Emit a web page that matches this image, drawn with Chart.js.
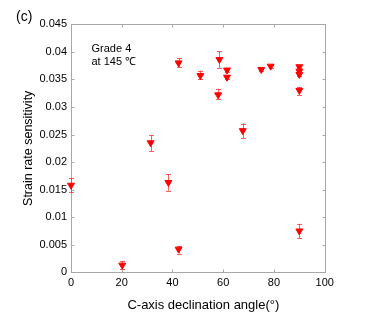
<!DOCTYPE html>
<html>
<head>
<meta charset="utf-8">
<script src="https://cdn.jsdelivr.net/npm/chart.js@4.4.0/dist/chart.umd.min.js"></script>
<style>
html,body{margin:0;padding:0;background:#fff;}
#wrap{width:366px;height:318px;position:relative;}
</style>
</head>
<body>
<div id="wrap"><canvas id="c" width="366" height="318"></canvas></div>
<script>
// C-axis declination angle (deg)
const angles = [0, 20.2, 31.4, 38.4, 42.4, 42.4, 51, 58, 58.5, 61.5, 61.5, 67.7, 75, 78.7, 90, 90, 90, 90, 90];
// Strain rate sensitivity
const values = [0.0158, 0.0013, 0.0235, 0.0163, 0.0042, 0.0380, 0.0357, 0.0322, 0.0386, 0.0367, 0.0354, 0.0257, 0.0368, 0.0374, 0.0373, 0.0365, 0.0359, 0.0330, 0.0075];
const errLow = [0.0145, 0.0006, 0.0220, 0.0148, 0.0034, 0.0372, 0.0350, 0.0315, 0.0371, 0.0363, 0.0350, 0.0244, 0.0365, 0.0371, 0.0370, 0.0362, 0.0356, 0.0322, 0.0062];
const errHigh = [0.0171, 0.0021, 0.0249, 0.0178, 0.0048, 0.0388, 0.0366, 0.0333, 0.0401, 0.0371, 0.0358, 0.0270, 0.0371, 0.0377, 0.0376, 0.0368, 0.0362, 0.0336, 0.0088];
const xTicks = [0, 20, 40, 60, 80, 100];
const yTicks = [0, 0.005, 0.01, 0.015, 0.02, 0.025, 0.03, 0.035, 0.04, 0.045];
const yTickLabels = ['0', '0.005', '0.01', '0.015', '0.02', '0.025', '0.03', '0.035', '0.04', '0.045'];
const xTitle = 'C-axis declination angle(\u00b0)';
const yTitle = 'Strain rate sensitivity';
const panelLabel = '(c)';
const noteLines = ['Grade 4', 'at 145 \u2103'];

const FONT = 'Arial, "Liberation Sans", sans-serif';

const errorBars = {
  id: 'errorBars',
  beforeDatasetsDraw(chart) {
    const {ctx, scales: {x, y}} = chart;
    ctx.save();
    ctx.strokeStyle = 'rgba(255,40,40,0.75)';
    ctx.lineWidth = 1;
    angles.forEach((a, i) => {
      const px = Math.round(x.getPixelForValue(a)) + 0.5;
      const y1 = y.getPixelForValue(errLow[i]);
      const y2 = y.getPixelForValue(errHigh[i]);
      ctx.beginPath();
      ctx.moveTo(px, y1); ctx.lineTo(px, y2);
      ctx.moveTo(px - 2.5, Math.round(y1) + 0.5); ctx.lineTo(px + 2.5, Math.round(y1) + 0.5);
      ctx.moveTo(px - 2.5, Math.round(y2) + 0.5); ctx.lineTo(px + 2.5, Math.round(y2) + 0.5);
      ctx.stroke();
    });
    ctx.restore();
  }
};

const frame = {
  id: 'frame',
  beforeDatasetsDraw(chart) {
    const {ctx, chartArea: ca, scales: {x, y}} = chart;
    ctx.save();
    ctx.strokeStyle = '#a8a8a8';
    ctx.lineWidth = 1;
    const L = Math.round(ca.left) + 0.5, R = Math.round(ca.right) + 0.5;
    const T = Math.round(ca.top) + 0.5, B = Math.round(ca.bottom) + 0.5;
    ctx.strokeRect(L, T, R - L, B - T);
    const tl = 3;
    ctx.beginPath();
    xTicks.forEach(v => {
      const px = Math.round(x.getPixelForValue(v)) + 0.5;
      ctx.moveTo(px, B); ctx.lineTo(px, B - tl);
      ctx.moveTo(px, T); ctx.lineTo(px, T + tl);
    });
    yTicks.forEach(v => {
      const py = Math.round(y.getPixelForValue(v)) + 0.5;
      ctx.moveTo(L, py); ctx.lineTo(L + tl, py);
      ctx.moveTo(R, py); ctx.lineTo(R - tl, py);
    });
    ctx.stroke();
    // texts
    ctx.fillStyle = '#000';
    ctx.textBaseline = 'alphabetic';
    ctx.textAlign = 'left';
    ctx.font = '14px ' + FONT;
    ctx.fillText(panelLabel, 16, 21);
    ctx.font = '11px ' + FONT;
    ctx.fillText(noteLines[0], 91.5, 52.3);
    ctx.fillText(noteLines[1], 91.5, 65);
    ctx.textAlign = 'center';
    ctx.font = '13px ' + FONT;
    ctx.fillText(xTitle, (ca.left + ca.right) / 2 + 5.5, 309.3);
    ctx.font = '12.5px ' + FONT;
    ctx.translate(31.5, (ca.top + ca.bottom) / 2);
    ctx.rotate(-Math.PI / 2);
    ctx.fillText(yTitle, 0, 0);
    ctx.restore();
  }
};

new Chart(document.getElementById('c'), {
  type: 'scatter',
  data: {
    datasets: [{
      data: angles.map((a, i) => ({x: a, y: values[i]})),
      pointStyle: 'triangle',
      rotation: 180,
      pointRadius: 4,
      pointHoverRadius: 4,
      backgroundColor: '#ff0000',
      borderColor: '#ff0000',
      borderWidth: 1,
      clip: false
    }]
  },
  plugins: [frame, errorBars],
  options: {
    responsive: false,
    animation: false,
    events: [],
    layout: {padding: {top: 24.3, right: 41.3, left: 0, bottom: 0}},
    plugins: {legend: {display: false}, tooltip: {enabled: false}},
    scales: {
      x: {
        type: 'linear', min: 0, max: 100,
        afterBuildTicks: s => { s.ticks = xTicks.map(v => ({value: v})); },
        afterFit: s => { s.height = 45.7; },
        grid: {display: false, drawTicks: false},
        border: {display: false},
        ticks: {color: '#000', font: {size: 11, family: FONT}, padding: 4, maxRotation: 0},
        title: {display: false}
      },
      y: {
        type: 'linear', min: 0, max: 0.045,
        afterBuildTicks: s => { s.ticks = yTicks.map(v => ({value: v})); },
        afterFit: s => { s.width = 71; },
        grid: {display: false, drawTicks: false},
        border: {display: false},
        ticks: {color: '#000', font: {size: 11, family: FONT}, padding: 4,
                callback: (v) => { const i = yTicks.findIndex(t => Math.abs(t - v) < 1e-9); return i >= 0 ? yTickLabels[i] : ''; }},
        title: {display: false}
      }
    }
  }
});
</script>
</body>
</html>
